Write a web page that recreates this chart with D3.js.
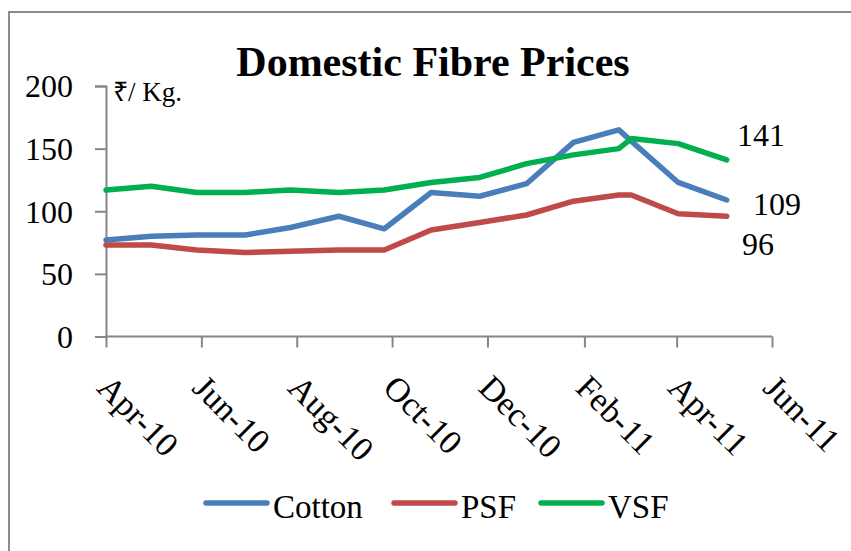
<!DOCTYPE html>
<meta charset="utf-8">
<style>
body { margin:0; background:#fff; }
svg text { font-family: "Liberation Serif", "Times New Roman", serif; fill:#000; }
.axis path, .axis line { stroke:#868686; stroke-width:2px; }
</style>
<svg width="851" height="551"></svg>
<script src="https://cdnjs.cloudflare.com/ajax/libs/d3/7.8.5/d3.min.js"></script>
<script>

// dates of the observations and the prices, Rs per kg
var dates  = ["2010-04-01","2010-04-30","2010-05-29","2010-06-29","2010-07-28","2010-08-28",
              "2010-09-26","2010-10-26","2010-11-26","2010-12-26","2011-01-25","2011-02-23",
              "2011-03-03","2011-04-02","2011-05-03"];
var cotton = [77, 80, 81, 81, 87, 96, 86, 115, 112, 122, 155, 165, 156, 123, 109];
var psf    = [73, 73, 69, 67, 68, 69, 69, 85, 91, 97, 108, 113, 113, 98, 96];
var vsf    = [117, 120, 115, 115, 117, 115, 117, 123, 127, 138, 145, 150, 158, 154, 141];
var yTicks = [0, 50, 100, 150, 200];
var xTicks = ["2010-04-01","2010-06-01","2010-08-01","2010-10-01","2010-12-01",
              "2011-02-01","2011-04-01","2011-06-01"];
var seriesNames = ["Cotton", "PSF", "VSF"];
var colors = ["#4A7EBB", "#BE4B48", "#00B050"];

var svg = d3.select("svg"),
    parse = d3.timeParse("%Y-%m-%d");

var series = [cotton, psf, vsf].map(function(vals, i) {
  return { name: seriesNames[i], color: colors[i],
           values: vals.map(function(v, j) { return { date: parse(dates[j]), v: v }; }) };
});

var x = d3.scaleTime()
    .domain([parse("2010-04-01"), parse("2011-06-01")])
    .range([106, 772]);
var y = d3.scaleLinear().domain([0, 200]).range([336.5, 86]);

// frame (only left and top edges visible)
svg.append("path").attr("d", "M9,551V12H851")
    .attr("fill", "none").attr("stroke", "#8c8c8c").attr("stroke-width", 2);

svg.append("text")
    .attr("x", 433).attr("y", 76)
    .attr("text-anchor", "middle")
    .style("font-size", "42px").style("font-weight", "bold")
    .text("Domestic Fibre Prices");

// y axis
var gy = svg.append("g").attr("class", "axis")
    .attr("transform", "translate(106,0)")
    .call(d3.axisLeft(y).tickValues(yTicks).tickSize(11).tickPadding(22));
gy.selectAll("text").style("font-size", "32px").attr("dy", "0.34em");

// x axis
var gx = svg.append("g").attr("class", "axis")
    .attr("transform", "translate(0," + y(0) + ")")
    .call(d3.axisBottom(x).tickValues(xTicks.map(parse)).tickSize(11)
      .tickFormat(d3.timeFormat("%b-%y")));
gx.select(".domain").attr("d", "M106,0H772");
gx.selectAll("text")
    .style("font-size", "34px")
    .attr("text-anchor", "start")
    .attr("y", 0).attr("dy", 0)
    .attr("transform", "translate(-11,53) rotate(45)");

svg.append("text")
    .attr("x", 113).attr("y", 101)
    .style("font-size", "27px")
    .text("₹/ Kg.");

var line = d3.line()
    .x(function(d) { return x(d.date); })
    .y(function(d) { return y(d.v); });

svg.selectAll(".series")
  .data(series)
  .enter().append("path")
    .attr("class", "series")
    .attr("d", function(d) { return line(d.values); })
    .attr("fill", "none")
    .attr("stroke", function(d) { return d.color; })
    .attr("stroke-width", 5.5)
    .attr("stroke-linejoin", "round")
    .attr("stroke-linecap", "round");

// end labels
var endPos = [[753, 215], [742, 255], [737, 146]];
series.forEach(function(s, i) {
  var last = s.values[s.values.length - 1];
  svg.append("text")
    .attr("x", endPos[i][0]).attr("y", endPos[i][1])
    .style("font-size", "32px")
    .text(last.v);
});

// legend
var legX = [206, 394, 541];
var leg = svg.selectAll(".leg")
  .data(series)
  .enter().append("g")
    .attr("class", "leg")
    .attr("transform", function(d, i) { return "translate(" + legX[i] + ",503)"; });
leg.append("line")
    .attr("x1", 0).attr("x2", 61)
    .attr("stroke", function(d) { return d.color; })
    .attr("stroke-width", 5.5).attr("stroke-linecap", "round");
leg.append("text")
    .attr("x", 67).attr("y", 15)
    .style("font-size", "33px")
    .text(function(d) { return d.name; });

</script>
